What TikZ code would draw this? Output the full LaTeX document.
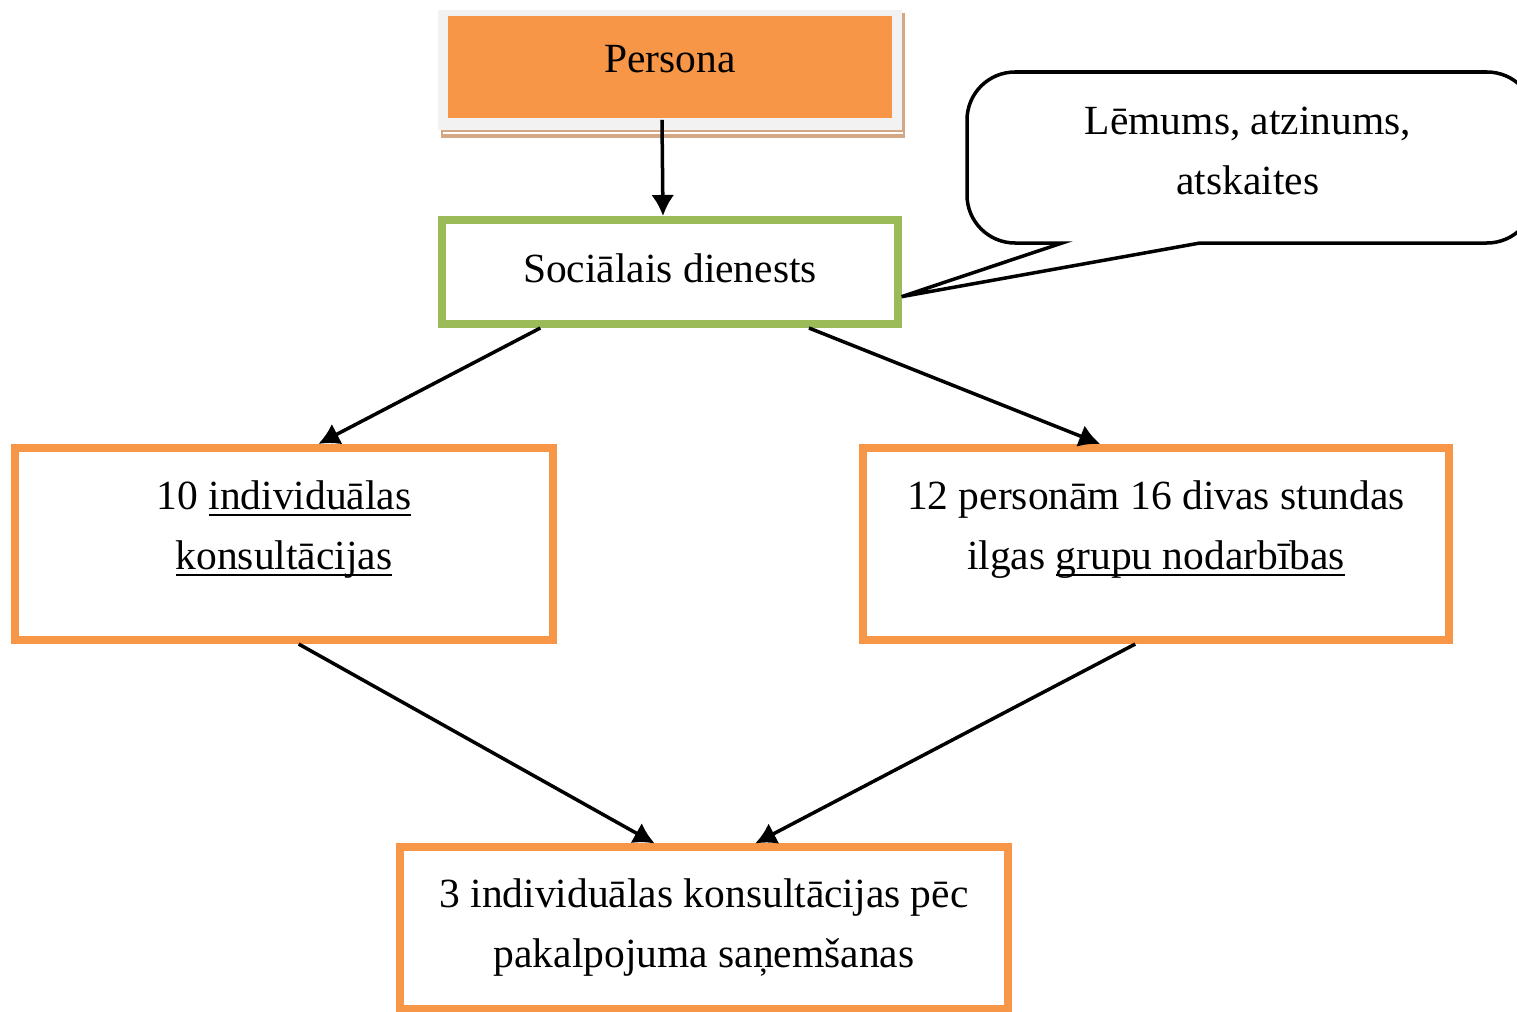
\documentclass[tikz,border=0pt]{standalone}
\usepackage{fontspec}
\setmainfont{Liberation Serif}
\usetikzlibrary{arrows.meta,positioning,calc}
\definecolor{boxorange}{RGB}{247,150,70}
\definecolor{boxgreen}{RGB}{155,187,89}
\definecolor{framegray}{RGB}{242,242,242}
\definecolor{shadowtan}{RGB}{212,168,132}
\newcommand{\undl}[1]{\setbox0\hbox{#1}\rlap{\rule[-1.8pt]{\wd0}{0.6pt}}\box0}
\tikzset{
  obox/.style={draw=boxorange,line width=0.08cm},
  txt/.style={align=center,inner sep=0pt,font=\fontsize{11.8}{17}\selectfont},
}
\begin{document}
\begin{tikzpicture}[x=0.01cm,y=-0.01cm,line width=0.035cm,>={Latex[length=0.21cm,width=0.23cm]}]
\useasboundingbox (0,0) rectangle (1517,1012);

% persona box with frame and shadow
\fill[shadowtan] (441,13) rectangle (905,138);
\draw[white,line width=0.3pt] (443,133) -- (903,133);
\fill[framegray] (438,10) rectangle (902,130);
\node[fill=boxorange,minimum width=4.43cm,minimum height=1.02cm,inner sep=0pt,
  txt,text height=8pt,text depth=4.6pt] (persona) at (670,67) {Persona};

\node[draw=boxgreen,line width=0.08cm,minimum width=4.55cm,minimum height=1.04cm,
  txt,text height=8pt,text depth=1.8pt] (soc) at (670,272) {Sociālais dienests};

% the four orange boxes
\node[obox,minimum width=5.37cm,minimum height=1.92cm] (indiv) at (284,544) {};
\node[obox,minimum width=5.86cm,minimum height=1.92cm] (group) at (1156,544) {};
\node[obox,minimum width=6.08cm,minimum height=1.61cm] (after) at (704,928) {};

\node[txt,anchor=north] (indivtxt) at (284,479) {10 \undl{individuālas}\\ \undl{konsultācijas}};
\node[txt,anchor=north] (grouptxt) at (1156,479) {12 personām 16 divas stundas\\ ilgas \undl{grupu nodarbības}};
\node[txt,anchor=north] (aftertxt) at (704,877) {3 individuālas konsultācijas pēc\\ pakalpojuma saņemšanas};

% callout
\coordinate (tip) at ($(soc.north east)!0.72!(soc.south east)$);
\draw (tip) -- (1200,243) [rounded corners=0.48cm] -- (1535,243) |- (967,72)
  -- (967,243) [sharp corners] -- (1062,243) -- cycle;
\node[txt,anchor=north] (notetxt) at (1248,105) {Lēmums, atzinums,\\ atskaites};

% arrows
\draw[->] ([xshift=-0.08cm]persona.south) -- ([xshift=-0.07cm]soc.north);
\draw[->] ($(soc.south west)!0.22!(soc.south east)$) -- ($(indiv.north west)!0.563!(indiv.north east)$);
\draw[->] ($(soc.south west)!0.8!(soc.south east)$) -- ($(group.north west)!0.406!(group.north east)$);
\draw[->] ($(indiv.south west)!0.527!(indiv.south east)$) -- ($(after.north west)!0.42!(after.north east)$);
\draw[->] ($(group.south west)!0.465!(group.south east)$) -- ($(after.north west)!0.583!(after.north east)$);
\end{tikzpicture}
\end{document}
